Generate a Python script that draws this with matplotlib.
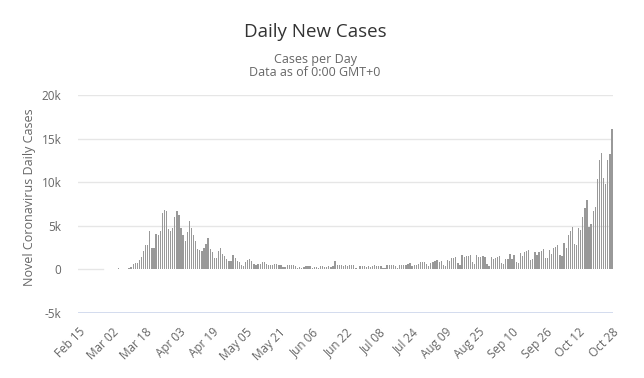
import matplotlib
matplotlib.use("Agg")
import matplotlib.pyplot as plt
import numpy as np
import datetime as dt

plt.rcParams['font.family'] = ['Open Sans', 'DejaVu Sans']

start_date = dt.date(2020, 2, 15)

# Daily new cases, Feb 15 -> Oct 28 (257 days)
early = [0, 0, 0, 0, 0, 0, 0, 0, 0, 0, 2, 6, 18, 21, 13,      # Feb 15-29
         13, 28, 37, 66]                                      # Mar 1-4
mar_apr = [190, 40, 80, 80, 100, 150, 300, 650, 750, 750, 1100, 1450,
           2100, 2850, 2850, 4400, 2400, 2400, 4100, 3900, 4350,
           6450, 6800, 6700, 4650, 4350, 4800, 6050, 6700, 6250]
apr_may = [4800, 4000, 3300, 4300, 5600, 4800, 3900, 3300, 2300, 2200,
           2100, 2400, 2900, 3650, 2300, 2000, 1350, 1350, 2100, 2400,
           1800, 1500, 1150, 1000, 1000, 1600, 1350, 1000, 800, 500,
           400, 800, 1100, 1150, 1000, 650, 450, 600, 600, 800,
           800, 650, 450]
may_jun = [550, 500, 650, 650, 550, 550, 270, 300, 450, 550,
           500, 450, 400, 200, 270, 200, 230, 400, 400, 420,
           200, 270, 270, 150, 350, 350, 270, 300, 400, 300, 400,
           1000,
           500, 450, 450, 420, 500, 420, 500, 450, 550]
jun_aug = [200, 80, 400, 400, 350, 330, 400, 300, 350, 450,
           400, 350, 350, 150, 150, 450, 450, 450, 500, 400,
           200, 550, 500, 500, 550, 650, 750, 400, 550, 550,
           600, 800, 850, 900, 600, 400, 700, 850, 1000, 1050, 800]
aug_sep = [1000, 500, 400, 1100, 950, 1270, 1350, 1400, 700, 450,
           1600, 1450, 1550, 1500, 1600, 850, 600, 1600, 1450, 1450,
           1550, 1450, 650, 400, 1400, 1250, 1300, 1400, 1500, 700,
           600, 1250, 1250, 1750, 1250, 1700, 800, 700]
sep_oct = [1850, 1550, 2000, 2100, 2200, 1050, 1150, 2000, 1600, 2000,
           2100, 2300, 1350, 1350, 2200, 1800, 2450, 2600, 2750, 1650,
           1500, 3000, 2500, 3900, 4350, 4900, 2900, 2750, 4700, 4500,
           6000, 7000, 8000, 4900, 5200, 6700, 7150, 10400, 12500, 13400,
           10500, 9800, 12600, 13200, 16150]

cases = early + mar_apr + apr_may + may_jun + jun_aug + aug_sep + sep_oct
n_days = len(cases)
days = np.arange(n_days)

tick_days = list(range(0, n_days, 16))
tick_labels = [(start_date + dt.timedelta(days=int(d))).strftime('%b %d') for d in tick_days]

y_ticks = [-5000, 0, 5000, 10000, 15000, 20000]
y_tick_labels = ['-5k', '0', '5k', '10k', '15k', '20k']

W, H = 644, 378
fig = plt.figure(figsize=(W / 100, H / 100), dpi=100)
ax = fig.add_axes([78 / W, (H - 313) / H, (613 - 78) / W, (313 - 95) / H])

ax.bar(days, cases, width=0.62, color='#999999', zorder=3, linewidth=0)
ax.plot([-0.5, 11.5], [0, 0], color='#e6e6e6', lw=1, zorder=2)

ax.set_xlim(-0.5, n_days - 0.5)
ax.set_ylim(-5000, 20000)
for yv in y_ticks[2:]:
    ax.axhline(yv, color='#e6e6e6', lw=1, zorder=1)
ax.axhline(-5000, color='#ccd6eb', lw=1.2, zorder=2)

for s in ax.spines.values():
    s.set_visible(False)

ax.set_yticks(y_ticks)
ax.set_yticklabels(y_tick_labels)
ax.set_xticks(tick_days)
ax.set_xticklabels(tick_labels, rotation=45, ha='right', va='top', rotation_mode='anchor')
ax.tick_params(axis='both', length=0, colors='#666666', labelsize=8.5)
ax.tick_params(axis='x', pad=9)
ax.tick_params(axis='y', pad=12)

fig.text(315 / W, 1 - 32 / H, 'Daily New Cases', ha='center', va='center',
         fontsize=13.5, color='#333333')
fig.text(315 / W, 1 - 59 / H, 'Cases per Day', ha='center', va='center',
         fontsize=9, color='#666666')
fig.text(315 / W, 1 - 73 / H, 'Data as of 0:00 GMT+0', ha='center', va='center',
         fontsize=9, color='#666666')
fig.text(30 / W, 1 - 197 / H, 'Novel Coronavirus Daily Cases', rotation=90,
         ha='center', va='center', fontsize=9, color='#666666')

fig.savefig('out.png', dpi=100)
